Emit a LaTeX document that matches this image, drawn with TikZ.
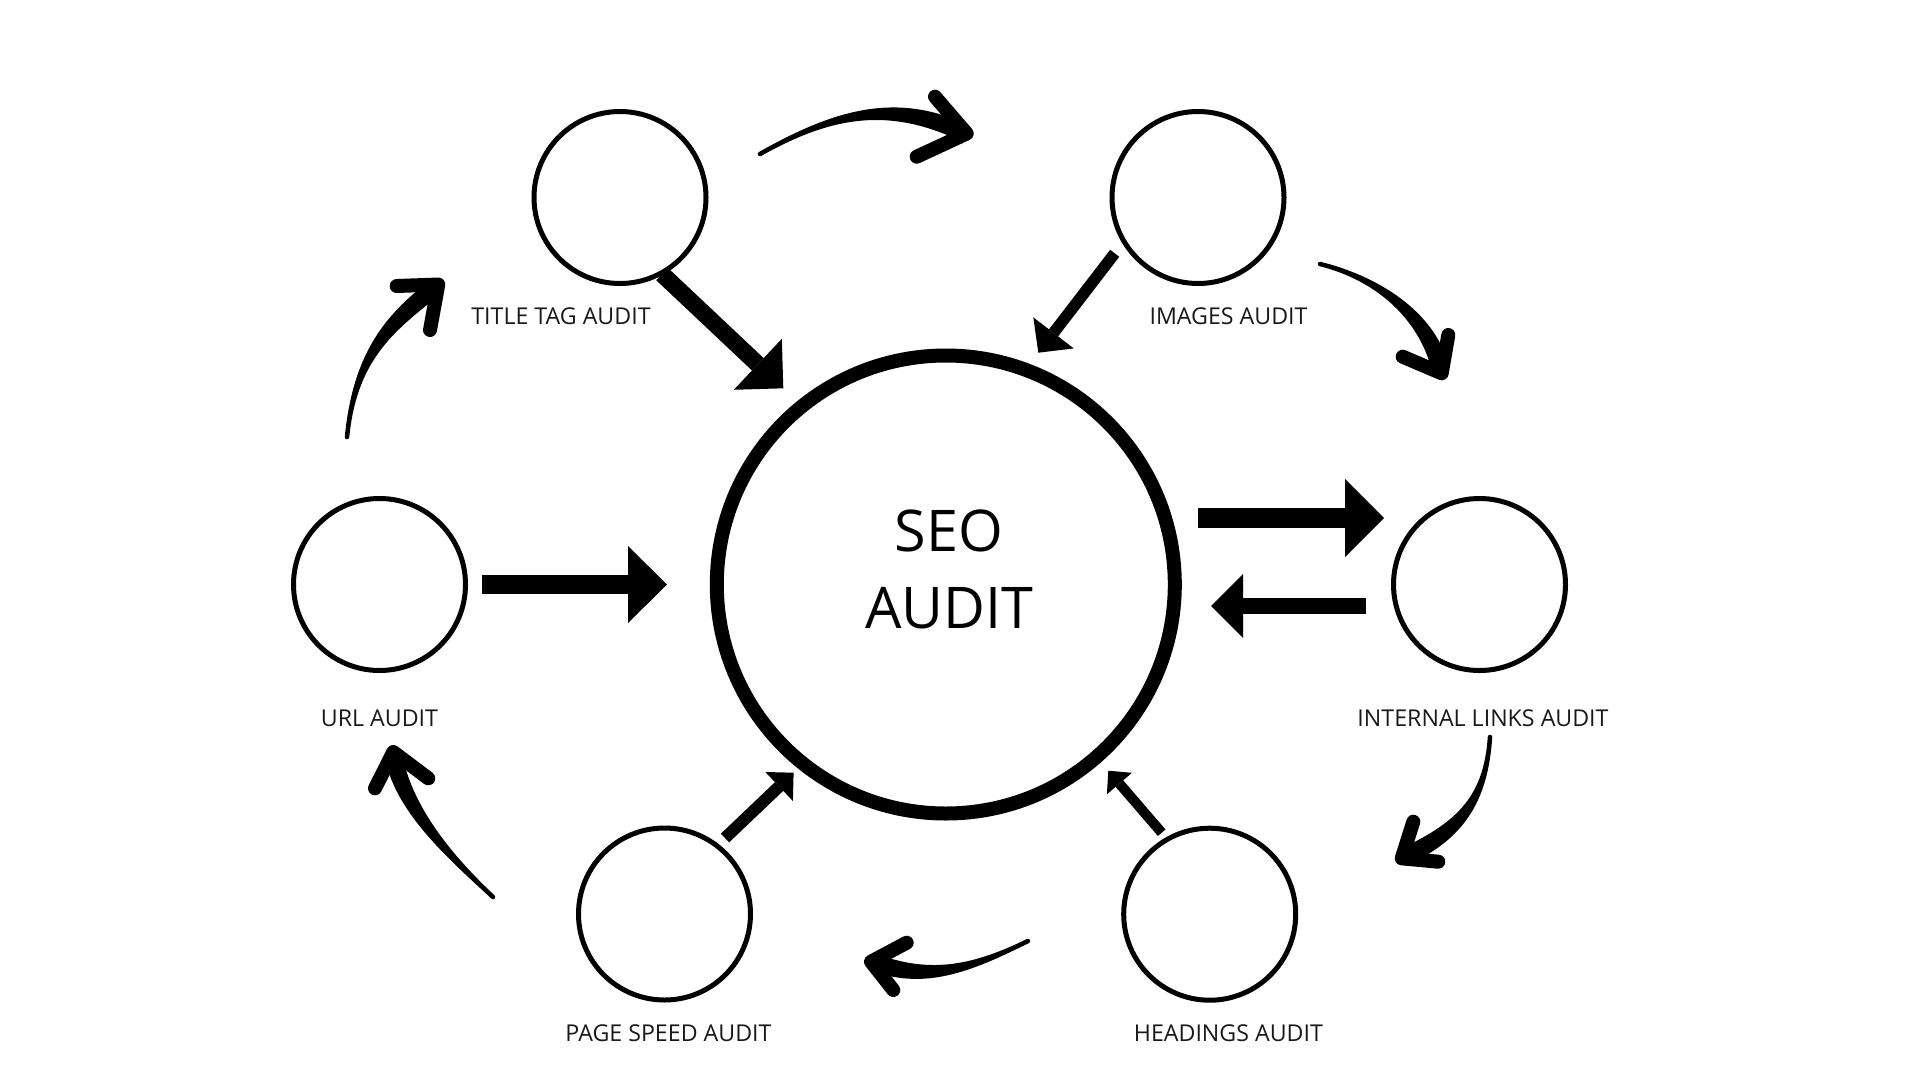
\documentclass[tikz,border=0pt]{standalone}
\usepackage{fontspec}
\setmainfont{Open Sans}
\usetikzlibrary{arrows.meta,calc}
\tikzset{
  smallc/.style={circle,draw=black,line width=5pt,minimum size=172pt,inner sep=0pt},
  bigc/.style={circle,draw=black,line width=14pt,minimum size=458pt,inner sep=0pt},
  lbl/.style={font=\fontsize{23.2}{28}\selectfont,inner sep=0pt,text=black!90},
  blk/.style n args={3}{line width=#1,-{Triangle[width=#2,length=#3,line width=0pt]}},
  chev/.style={line width=14pt,line cap=round,line join=round},
  bodyst/.style={fill=black,draw=black,line width=4.5pt,line join=round}
}
\newcommand\taperarc[4]{%
  \filldraw[bodyst] (#1) .. controls (#2) and ($(#3)!6.5pt!90:(#4)$) .. ($(#4)!6.5pt!-90:(#3)$)
    -- ($(#4)!6.5pt!90:(#3)$) .. controls ($(#3)!6.5pt!-90:(#4)$) and (#2) .. (#1) -- cycle;}
\begin{document}
\begin{tikzpicture}[x=1pt,y=-1pt]
\useasboundingbox (0,0) rectangle (1920,1080);
\fill[white] (0,0) rectangle (1920,1080);

% circles
\node[bigc] (seo) at (945.8,584.5) {};
\node[align=center,font=\fontsize{57.5}{77}\selectfont,inner sep=0pt] (seotext) at (949,569.2) {SEO\\AUDIT};
\node[smallc] (title) at (620,197.5) {};
\node[smallc] (images) at (1198,197.5) {};
\node[smallc] (url) at (379.5,584.5) {};
\node[smallc] (internal) at (1479.5,584.5) {};
\node[smallc] (speed) at (664.5,914) {};
\node[smallc] (headings) at (1209.7,914.2) {};

% labels
\node[lbl] (ltitle) at (561,316) {TITLE TAG AUDIT};
\node[lbl] (limages) at (1228.5,316) {IMAGES AUDIT};
\node[lbl] (lurl) at (379.5,718) {URL AUDIT};
\node[lbl] (linternal) at (1483,718.5) {INTERNAL LINKS AUDIT};
\node[lbl] (lspeed) at (668.5,1033.5) {PAGE SPEED AUDIT};
\node[lbl] (lheadings) at (1228.4,1033.5) {HEADINGS AUDIT};

% straight block arrows
\coordinate (a1s) at (662,274);   \coordinate (a1e) at (783.3,388.3);
\coordinate (a2s) at (1114.7,253.3); \coordinate (a2e) at (1038.3,352.7);
\coordinate (a3s) at (482,584.5); \coordinate (a3e) at (667,584.5);
\coordinate (a4s) at (1198,518);  \coordinate (a4e) at (1384,518);
\coordinate (a5s) at (1366,606);  \coordinate (a5e) at (1211,606);
\coordinate (a6s) at (725,838);   \coordinate (a6e) at (793.6,772.7);
\coordinate (a7s) at (1161.7,832.7); \coordinate (a7e) at (1108.3,770.7);
\draw[blk={17pt}{70pt}{35pt}] (a1s) -- (a1e);
\draw[blk={11.5pt}{51pt}{25pt}] (a2s) -- (a2e);
\draw[blk={19pt}{77pt}{39pt}] (a3s) -- (a3e);
\draw[blk={20pt}{78pt}{39pt}] (a4s) -- (a4e);
\draw[blk={16pt}{64pt}{32pt}] (a5s) -- (a5e);
\draw[blk={12pt}{40pt}{20pt}] (a6s) -- (a6e);
\draw[blk={10pt}{33pt}{17pt}] (a7s) -- (a7e);

% curved hand-drawn arrows
% C1: title -> images
\coordinate (c1t) at (760,154); \coordinate (c1a) at (829.6,114.8); \coordinate (c1b) at (890,98.4); \coordinate (c1p) at (962,132);
\coordinate (c1h) at (966.7,133.5); \coordinate (c1u) at (935,96.7); \coordinate (c1d) at (916.7,156.7);
\taperarc{c1t}{c1a}{c1b}{c1p}
\draw[chev] (c1u) -- (c1h) -- (c1d);
% C2: images -> internal links
\coordinate (c2t) at (1320,264); \coordinate (c2a) at (1375,277.5); \coordinate (c2b) at (1426,313.5); \coordinate (c2p) at (1440,367);
\coordinate (c2h) at (1441.7,373.3); \coordinate (c2u) at (1448.3,335); \coordinate (c2d) at (1402.7,356.7);
\taperarc{c2t}{c2a}{c2b}{c2p}
\draw[chev] (c2u) -- (c2h) -- (c2d);
% C3: internal links -> headings
\coordinate (c3t) at (1490,737); \coordinate (c3a) at (1486,797); \coordinate (c3b) at (1462,829); \coordinate (c3p) at (1408,855);
\coordinate (c3h) at (1401.7,858.3); \coordinate (c3u) at (1413.3,821.7); \coordinate (c3d) at (1438.3,861.7);
\taperarc{c3t}{c3a}{c3b}{c3p}
\draw[chev] (c3u) -- (c3h) -- (c3d);
% C4: headings -> page speed
\coordinate (c4t) at (1028,941); \coordinate (c4a) at (975.8,966.5); \coordinate (c4b) at (930.5,982.7); \coordinate (c4p) at (876,963);
\coordinate (c4h) at (871,961.7); \coordinate (c4u) at (906.7,942.7); \coordinate (c4d) at (893.3,990);
\taperarc{c4t}{c4a}{c4b}{c4p}
\draw[chev] (c4u) -- (c4h) -- (c4d);
% C5: page speed -> url
\coordinate (c5t) at (493,897); \coordinate (c5a) at (453,859.6); \coordinate (c5b) at (405,811.9); \coordinate (c5p) at (394,758);
\coordinate (c5h) at (393.3,752); \coordinate (c5u) at (428.3,778.3); \coordinate (c5d) at (375,788.3);
\taperarc{c5t}{c5a}{c5b}{c5p}
\draw[chev] (c5u) -- (c5h) -- (c5d);
% C6: url -> title
\coordinate (c6t) at (347,437); \coordinate (c6a) at (354.5,362); \coordinate (c6b) at (384.6,326.6); \coordinate (c6p) at (432,290);
\coordinate (c6h) at (438.3,284.5); \coordinate (c6u) at (396.7,286); \coordinate (c6d) at (430,330);
\taperarc{c6t}{c6a}{c6b}{c6p}
\draw[chev] (c6u) -- (c6h) -- (c6d);
\end{tikzpicture}
\end{document}
